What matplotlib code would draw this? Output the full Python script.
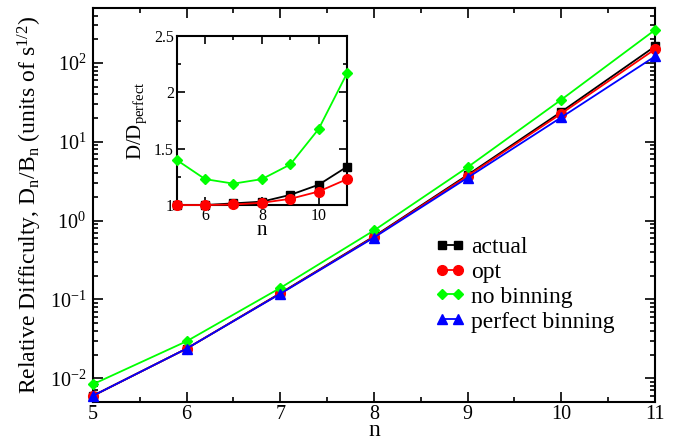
import matplotlib
matplotlib.use('Agg')
import matplotlib.pyplot as plt
from matplotlib.ticker import LogLocator, MultipleLocator, NullFormatter

plt.rcParams['font.family'] = ['Liberation Serif', 'DejaVu Serif']
plt.rcParams['mathtext.fontset'] = 'custom'
plt.rcParams['mathtext.rm'] = 'Liberation Serif'
plt.rcParams['mathtext.it'] = 'Liberation Serif:italic'
plt.rcParams['mathtext.bf'] = 'Liberation Serif:bold'

# data
n_vals = [5, 6, 7, 8, 9, 10, 11]
actual = [0.0060, 0.0238, 0.120, 0.63, 3.80, 24.0, 162]
opt = [0.0060, 0.0238, 0.119, 0.62, 3.69, 22.8, 149]
no_binning = [0.0084, 0.0295, 0.140, 0.75, 4.76, 34.2, 262]
perfect = [0.0060, 0.0238, 0.118, 0.61, 3.50, 20.4, 121]

ratio_actual = [1.0, 1.0, 1.015, 1.03, 1.09, 1.18, 1.34]
ratio_opt = [1.0, 1.0, 1.005, 1.02, 1.055, 1.12, 1.23]
ratio_nobin = [1.40, 1.23, 1.19, 1.23, 1.36, 1.675, 2.17]

GREEN = '#00ff00'
series = [
    ('actual', actual, 'black', 's', 6),
    ('opt', opt, 'red', 'o', 7),
    ('no binning', no_binning, GREEN, 'D', 5),
    ('perfect binning', perfect, 'blue', '^', 7),
]

fig = plt.figure(figsize=(6.85, 4.4), dpi=100)
ax = fig.add_axes([0.1358, 0.0864, 0.956 - 0.1358, 0.982 - 0.0864])

for label, vals, col, mk, ms in series:
    ax.plot(n_vals, vals, color=col, marker=mk, markersize=ms, lw=1.3,
            label=label, clip_on=False, zorder=3)

ax.set_yscale('log')
ax.set_xlim(5, 11)
ax.set_ylim(0.005, 500)
ax.xaxis.set_major_locator(MultipleLocator(1))
ax.xaxis.set_minor_locator(MultipleLocator(0.5))
ax.yaxis.set_major_locator(LogLocator(base=10, numticks=20))
ax.yaxis.set_minor_locator(LogLocator(base=10, subs=range(2, 10), numticks=20))
ax.yaxis.set_minor_formatter(NullFormatter())
ax.tick_params(which='both', direction='in', top=True, right=True, width=1.2)
ax.tick_params(which='major', length=7, labelsize=14.5)
ax.tick_params(axis='x', which='major', pad=2)
ax.tick_params(axis='y', which='major', pad=5)
ax.tick_params(which='minor', length=3.5)
for sp in ax.spines.values():
    sp.set_linewidth(1.5)

ax.set_xlabel('n', fontsize=17, labelpad=-3)
ax.set_ylabel(r'Relative Difficulty, D$_\mathregular{n}$/B$_\mathregular{n}$ (units of s$^{\mathregular{1/2}}$)',
              fontsize=17, labelpad=4)

leg = ax.legend(loc='upper left', bbox_to_anchor=(0.608, 0.42), frameon=False,
                fontsize=17, numpoints=2, handlelength=1.3, handletextpad=0.25,
                labelspacing=0.14, borderpad=0, borderaxespad=0)

# inset
ins = fig.add_axes([0.258, 0.534, 0.5066 - 0.258, 0.918 - 0.534])
ins.plot(n_vals, ratio_nobin, color=GREEN, marker='D', markersize=5, lw=1.3, clip_on=False, zorder=3)
ins.plot(n_vals, ratio_actual, color='black', marker='s', markersize=6, lw=1.3, clip_on=False, zorder=3)
ins.plot(n_vals, ratio_opt, color='red', marker='o', markersize=7, lw=1.3, clip_on=False, zorder=4)
ins.set_xlim(5, 11)
ins.set_ylim(1, 2.5)
ins.xaxis.set_major_locator(MultipleLocator(2))
ins.xaxis.set_minor_locator(MultipleLocator(1))
ins.yaxis.set_minor_locator(MultipleLocator(0.25))
ins.set_yticks([1, 1.5, 2, 2.5])
ins.set_yticklabels(['1', '1.5', '2', '2.5'])
ins.tick_params(which='both', direction='in', top=True, right=True, width=1.2)
ins.tick_params(which='major', length=6, labelsize=11.5, pad=2)
ins.tick_params(which='minor', length=3)
for sp in ins.spines.values():
    sp.set_linewidth(1.5)
ins.set_xlabel('n', fontsize=15, labelpad=-2)
ins.set_ylabel(r'D/D$_{\mathregular{perfect}}$', fontsize=15, labelpad=4)

fig.savefig('out.png', dpi=100, facecolor='white')
